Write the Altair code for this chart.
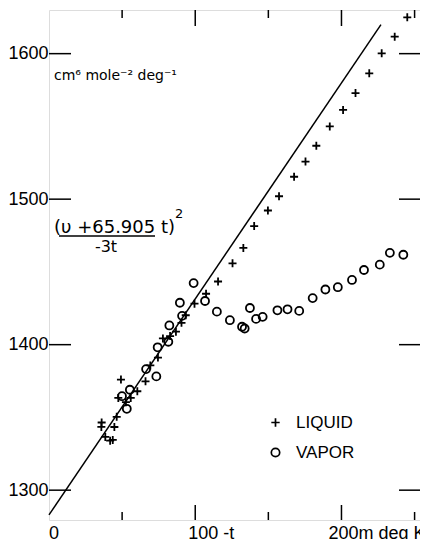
import altair as alt
import pandas as pd

# ---- data ----
liquid_t = [36.0, 35.8, 38.5, 41.8, 43.6, 44.7, 46.3, 47.4, 49.2, 52.6, 55.9, 60.4,
            66.0, 69.3, 74.5, 77.9, 82.8, 86.8, 90.6, 93.5, 99.5, 107.4, 115.6, 125.5,
            132.9, 140.3, 149.7, 157.3, 167.6, 175.4, 182.8, 192.0, 201.1, 209.6, 219.0,
            227.5, 236.4, 245.0]
liquid_v = [1346.5, 1343.5, 1336.6, 1334.0, 1334.5, 1343.4, 1350.4, 1363.4, 1376.0, 1360.5,
            1363.4, 1368.0, 1374.8, 1385.7, 1391.1, 1404.3, 1405.9, 1408.9, 1415.0, 1420.2,
            1428.2, 1435.0, 1443.4, 1455.9, 1466.5, 1481.5, 1492.2, 1502.0, 1515.4, 1525.8,
            1536.7, 1550.0, 1561.3, 1572.9, 1586.5, 1600.2, 1611.7, 1625.0]
vapor_t = [49.9, 53.2, 55.3, 66.4, 73.4, 74.3, 81.6, 82.3, 89.5, 91.0, 98.9, 106.7, 114.8,
           123.7, 132.0, 133.8, 137.4, 141.6, 146.1, 156.2, 163.1, 171.1, 180.3, 189.0,
           197.5, 207.2, 215.4, 226.2, 233.1, 242.3]
vapor_v = [1364.6, 1355.9, 1369.0, 1383.2, 1378.2, 1398.2, 1402.0, 1413.2, 1428.8, 1419.8,
           1442.3, 1430.0, 1422.7, 1416.8, 1412.3, 1411.1, 1425.2, 1417.7, 1419.1, 1423.6,
           1424.3, 1423.2, 1432.0, 1437.9, 1439.5, 1444.5, 1451.3, 1455.0, 1463.1, 1461.8]
fit_t = [0, 227]
fit_v = [1283, 1620]
y_ticks = [1300, 1400, 1500, 1600]
x_label_values = [0, 100, 200]
x_label_texts = ["0", "100 -t", "200m deg K"]
x_major = [100, 200]
x_minor = [50, 150, 250]
phases = ["LIQUID", "VAPOR"]

W, H = 371, 510
XD = [0, 253.7]
YD = [1279.5, 1630]
FONT = "Liberation Sans"

pts = pd.DataFrame({
    "t": liquid_t + vapor_t,
    "v": liquid_v + vapor_v,
    "phase": [phases[0]] * len(liquid_t) + [phases[1]] * len(vapor_t),
})
fit = pd.DataFrame({"t": fit_t, "v": fit_v})
yt = pd.DataFrame({"v": y_ticks})
xmaj = pd.DataFrame({"t": x_major})
xmin = pd.DataFrame({"t": x_minor})

xs = alt.Scale(domain=XD, nice=False, zero=False)
ys = alt.Scale(domain=YD, nice=False, zero=False)

y_axis = alt.Axis(
    values=y_ticks, grid=False, ticks=False, tickSize=0, domain=False, format="d",
    labelPadding=1, labelFont=FONT, labelFontSize=18, labelColor="black",
    labelOverlap=False, labelFlush=False,
)


def X(f="t"):
    return alt.X(f + ":Q", scale=xs, axis=None)


def Y(f="v"):
    return alt.Y(f + ":Q", scale=ys, axis=None)


cross = "M-1,0L1,0M0,-1L0,1"

points = alt.Chart(pts).mark_point(filled=False, color="black", strokeWidth=1.8, size=64, opacity=1).encode(
    x=X(),
    y=alt.Y("v:Q", scale=ys, axis=y_axis, title=None),
    shape=alt.Shape("phase:N", scale=alt.Scale(domain=phases, range=[cross, "circle"]),
                    legend=alt.Legend(title=None, orient="none", legendX=218, legendY=404,
                                      labelFont="Liberation Sans Narrow, Liberation Sans",
                                      labelFontSize=17, labelColor="black",
                                      labelOffset=12, rowPadding=12, symbolStrokeWidth=1.7,
                                      symbolStrokeColor="black", symbolFillColor="transparent",
                                      symbolSize=70)),
)

line = alt.Chart(fit).mark_line(color="black", strokeWidth=1.5).encode(x=X(), y=Y())

# inward tick marks, drawn as open one-sided segment symbols anchored on the frame
tick_style = dict(filled=False, color="black", strokeWidth=1.5, opacity=1)
left_ticks = alt.Chart(yt).mark_point(shape="M0,0L2,0", size=22 ** 2, **tick_style).encode(
    y=Y(), x=alt.value(0))
right_ticks = alt.Chart(yt).mark_point(shape="M0,0L-2,0", size=21 ** 2, **tick_style).encode(
    y=Y(), x=alt.value(W))
top_major = alt.Chart(xmaj).mark_point(shape="M0,0L0,2", size=16 ** 2, **tick_style).encode(
    x=X(), y=alt.value(0))
top_minor = alt.Chart(xmin).mark_point(shape="M0,0L0,2", size=8 ** 2, **tick_style).encode(
    x=X(), y=alt.value(0))
bot_major = alt.Chart(xmaj).mark_point(shape="M0,0L0,-2", size=15 ** 2, **tick_style).encode(
    x=X(), y=alt.value(H))
bot_minor = alt.Chart(xmin).mark_point(shape="M0,0L0,-2", size=8 ** 2, **tick_style).encode(
    x=X(), y=alt.value(H))

# x tick labels (each nudged so its number sits on its tick)
x_label_dx = [0, -7, -13]
x_labels = [
    alt.Chart(pd.DataFrame({"t": [val], "lab": [txt]})).mark_text(
        align="left", baseline="top", dx=dx, font=FONT, fontSize=18, color="black"
    ).encode(x=X(), y=alt.value(H + 5), text="lab:N")
    for val, txt, dx in zip(x_label_values, x_label_texts, x_label_dx)
]

unit_txt = alt.Chart().mark_text(text="cm⁶ mole⁻² deg⁻¹", font="DejaVu Sans", fontSize=14,
                                 align="left", baseline="alphabetic", color="black").encode(
    x=alt.value(5), y=alt.value(70))
num_txt = alt.Chart().mark_text(text="(υ +65.905 t)", font="DejaVu Sans", fontSize=18,
                                align="left", baseline="alphabetic", color="black").encode(
    x=alt.value(5), y=alt.value(223))
sq_txt = alt.Chart().mark_text(text="2", font="DejaVu Sans", fontSize=13,
                               align="left", baseline="alphabetic", color="black").encode(
    x=alt.value(126), y=alt.value(208))
frac_line = alt.Chart().mark_rule(color="black", strokeWidth=1.5).encode(
    x=alt.value(10), x2=alt.value(106), y=alt.value(226))
den_txt = alt.Chart().mark_text(text="-3t", font="DejaVu Sans", fontSize=16,
                                align="center", baseline="alphabetic", color="black").encode(
    x=alt.value(57), y=alt.value(242))

chart = alt.layer(
    points, line, left_ticks, right_ticks, top_major, top_minor, bot_major, bot_minor,
    *x_labels, unit_txt, num_txt, sq_txt, frac_line, den_txt,
).resolve_axis(x="independent", y="independent").properties(
    width=W, height=H,
    autosize=alt.AutoSizeParams(type="none"),
    padding={"left": 41, "top": 2, "right": 0, "bottom": 19},
).configure_view(stroke="black", strokeWidth=1.6).configure(background="white")

chart.save("out.html", embed_options={"renderer": "svg", "actions": False})
